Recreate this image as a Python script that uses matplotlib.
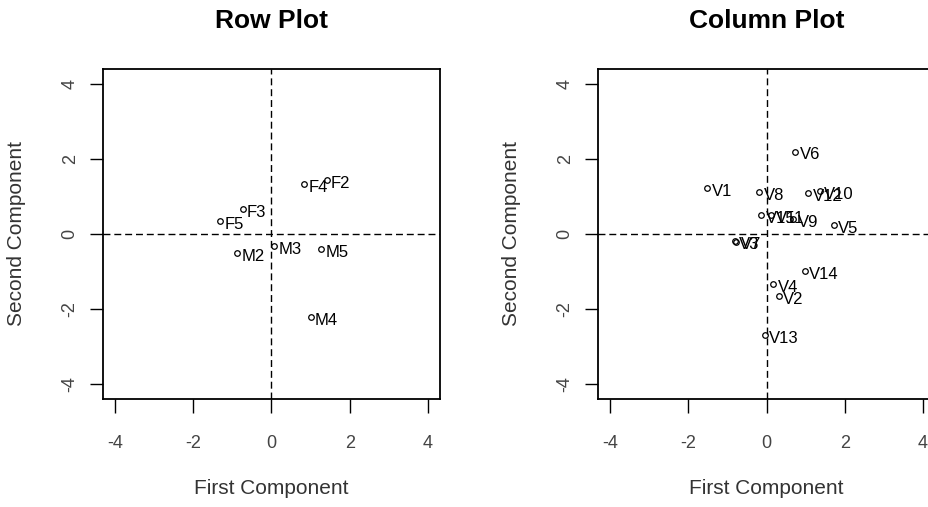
import matplotlib.pyplot as plt

plt.rcParams['font.family'] = ['Liberation Sans', 'DejaVu Sans']

# row coordinates (first, second component)
row_labels = ['F2', 'F3', 'F4', 'F5', 'M2', 'M3', 'M4', 'M5']
row_x = [1.41, -0.74, 0.83, -1.32, -0.88, 0.06, 1.00, 1.27]
row_y = [1.44, 0.67, 1.33, 0.34, -0.50, -0.31, -2.22, -0.40]

# column coordinates
col_labels = ['V1', 'V2', 'V3', 'V4', 'V5', 'V6', 'V7', 'V8',
              'V9', 'V10', 'V11', 'V12', 'V13', 'V14', 'V15']
col_x = [-1.51, 0.31, -0.81, 0.17, 1.72, 0.74, -0.78, -0.19,
         0.69, 1.36, 0.12, 1.07, -0.04, 0.98, -0.14]
col_y = [1.23, -1.66, -0.18, -1.33, 0.23, 2.20, -0.20, 1.12,
         0.40, 1.15, 0.51, 1.09, -2.69, -0.98, 0.51]

ticks = [-4, -2, 0, 2, 4]

fig = plt.figure(figsize=(9.29, 5.07), dpi=100)
W, H = 929, 507


def panel(left_px, title, xs, ys, labels):
    ax = fig.add_axes([left_px / W, (H - 399) / H, 337 / W, 330 / H])
    ax.plot(xs, ys, 'o', ms=4, mfc='none', mec='black', mew=0.9)
    # labels sit to the right of the points, like R's text(pos=4)
    for x, y, lab in zip(xs, ys, labels):
        ax.annotate(lab, (x, y), xytext=(3.2, -2.5), textcoords='offset points',
                    ha='left', va='center', fontsize=12, color='black')
    ax.axhline(0, color='black', lw=1, dashes=(5, 2.8))
    ax.axvline(0, color='black', lw=1, dashes=(5, 2.8))
    ax.set_xlim(-4.31, 4.31)
    ax.set_ylim(-4.4, 4.4)
    ax.set_xticks(ticks)
    ax.set_yticks(ticks)
    ax.set_xticklabels([str(t) for t in ticks])
    ax.set_yticklabels([str(t) for t in ticks], rotation=90, va='center')
    ax.tick_params(axis='x', length=10, width=1, pad=16, labelsize=13, labelcolor='#444444')
    ax.tick_params(axis='y', length=9.5, width=1, pad=8, labelsize=13, labelcolor='#444444')
    for s in ax.spines.values():
        s.set_linewidth(1.3)
    ax.set_xlabel('First Component', fontsize=15, color='#333333', va='center')
    ax.set_ylabel('Second Component', fontsize=15, color='#333333', va='center')
    ax.xaxis.set_label_coords(0.5, -0.27)
    ax.yaxis.set_label_coords(-0.258, 0.5)
    fig.text((left_px + 168.5) / W, (H - 21) / H, title, ha='center', va='center',
             fontsize=19, fontweight='bold')
    return ax


panel(103, 'Row Plot', row_x, row_y, row_labels)
panel(598, 'Column Plot', col_x, col_y, col_labels)

fig.savefig('out.png', dpi=100)
